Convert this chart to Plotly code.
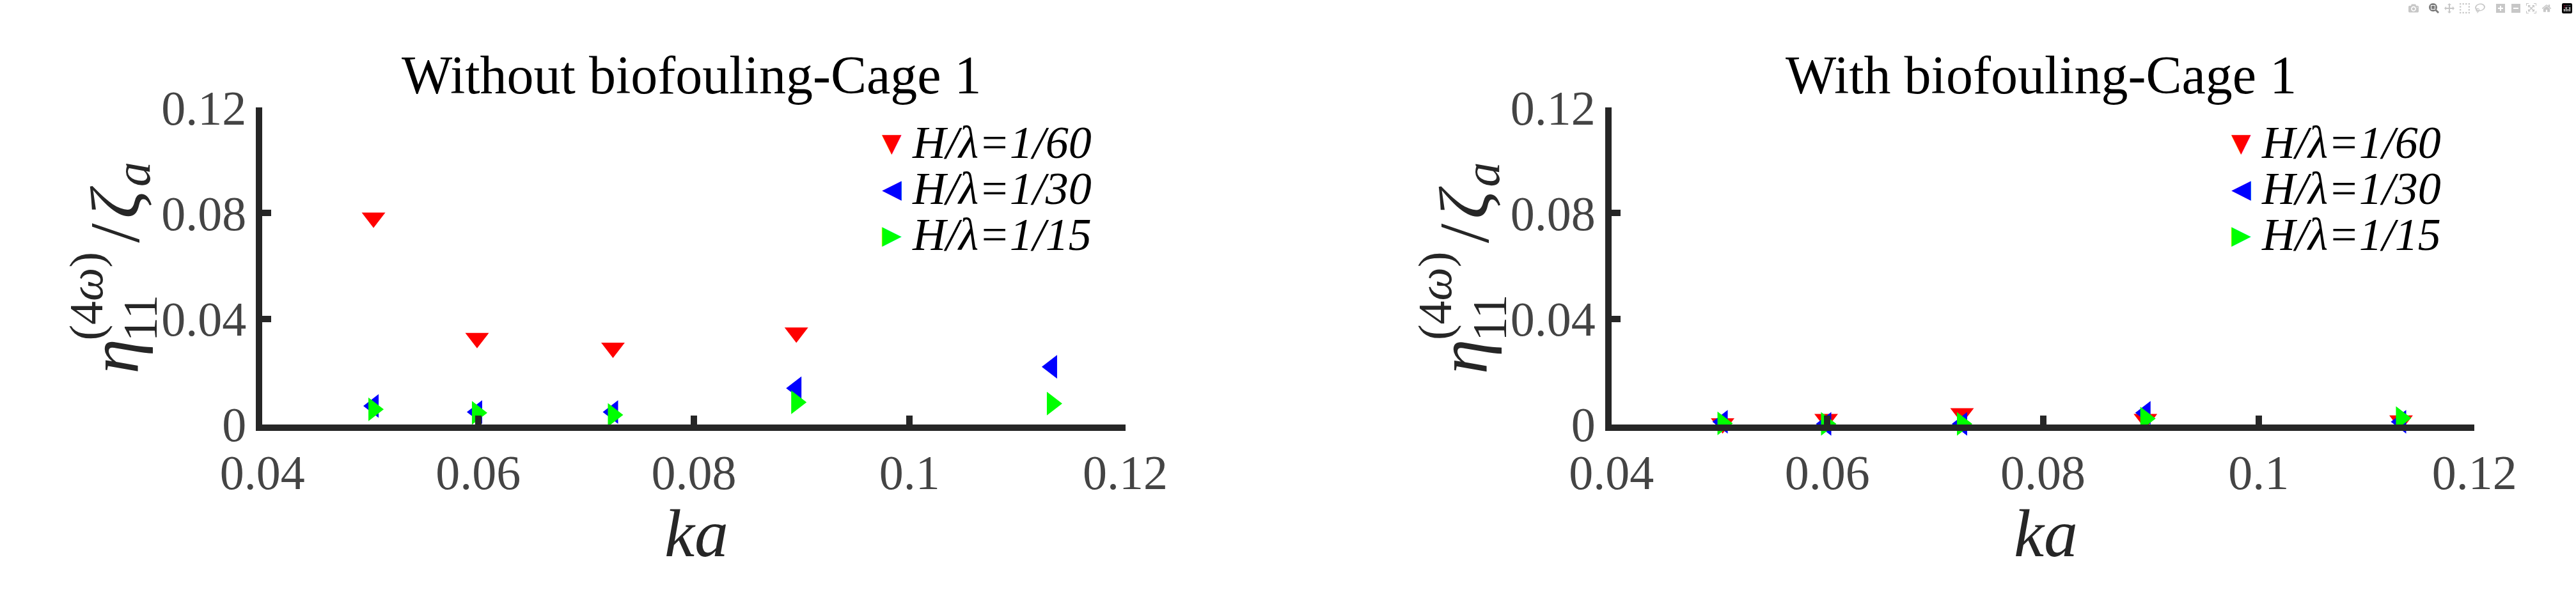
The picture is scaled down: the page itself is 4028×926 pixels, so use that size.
import plotly.graph_objects as go

# ---- data ----
ka = [0.0503, 0.0599, 0.0725, 0.0895, 0.1132]
series_names = ["H/λ=1/60", "H/λ=1/30", "H/λ=1/15"]

# without biofouling (left panel)
wo_60 = [0.0783, 0.0327, 0.0290, 0.0348, None]
wo_30 = [0.0070, 0.0047, 0.0047, 0.0137, 0.0218]
wo_15 = [0.0057, 0.0044, 0.0036, 0.0084, 0.0079]

# with biofouling (right panel)
wi_60 = [0.0004, 0.0020, 0.0042, 0.0020, 0.0015]
wi_30 = [0.0010, 0.0002, 0.0002, 0.0044, 0.0010]
wi_15 = [0.0004, 0.0002, 0.0002, 0.0022, 0.0024]

titles = ["Without biofouling-Cage 1", "With biofouling-Cage 1"]
xticks = [0.04, 0.06, 0.08, 0.1, 0.12]
xticklabels = ["0.04", "0.06", "0.08", "0.1", "0.12"]
yticks = [0, 0.04, 0.08, 0.12]
yticklabels = ["0", "0.04", "0.08", "0.12"]

colors = ["#ff0000", "#0000ff", "#00ff00"]
symbols = ["triangle-down", "triangle-left", "triangle-right"]
glyphs = ["▼", "◀", "▶"]

W, H = 4028, 926
SERIF = "Liberation Serif"
AX = "#262626"

fig = go.Figure()

panels = [(wo_60, wo_30, wo_15), (wi_60, wi_30, wi_15)]
for p, vals in enumerate(panels):
    xa = "x" if p == 0 else "x2"
    ya = "y" if p == 0 else "y2"
    for i, v in enumerate(vals):
        fig.add_trace(go.Scatter(
            x=ka, y=v, mode="markers", name=series_names[i],
            marker=dict(symbol=symbols[i], size=32, color=colors[i], line_width=0),
            xaxis=xa, yaxis=ya, showlegend=False, cliponaxis=False,
        ))

axis_style = dict(
    showline=True, linewidth=10, linecolor=AX,
    ticks="inside", ticklen=14, tickwidth=10, tickcolor=AX,
    showgrid=False, zeroline=False, mirror=False,
    tickfont=dict(family=SERIF, size=76, color="#444444"),
)

offs = [0, 2181]
top, bottom = 140, 685
fig.update_layout(
    width=W, height=H,
    margin=dict(l=0, r=0, t=0, b=0),
    paper_bgcolor="white", plot_bgcolor="white",
    showlegend=False,
    xaxis=dict(domain=[356 / W, 1751 / W], range=[0.04, 0.12], tickvals=xticks,
               ticktext=xticklabels, anchor="y", **axis_style),
    yaxis=dict(domain=[1 - bottom / H, 1 - top / H], range=[0, 0.12], tickvals=yticks,
               ticktext=yticklabels, anchor="x", **axis_style),
    xaxis2=dict(domain=[(356 + offs[1]) / W, (1751 + offs[1]) / W], range=[0.04, 0.12],
                tickvals=xticks, ticktext=xticklabels, anchor="y2", **axis_style),
    yaxis2=dict(domain=[1 - bottom / H, 1 - top / H], range=[0, 0.12], tickvals=yticks,
                ticktext=yticklabels, anchor="x2", **axis_style),
)


def note(x, y, text, size, color="black", angle=0, xanchor="center", yanchor="middle",
         family=SERIF):
    fig.add_annotation(
        x=x / W, y=1 - y / H, xref="paper", yref="paper", text=text,
        showarrow=False, textangle=angle, xanchor=xanchor, yanchor=yanchor,
        font=dict(family=family, size=size, color=color),
    )


for p in range(2):
    o = offs[p]
    # title
    note(1050 + o, 84, titles[p], 84)
    # x label
    note(1058 + o, 806, "<i>ka</i>", 106, color=AX, yanchor="top")
    # y label pieces: eta_11^(4w) / zeta_a
    note(117 + o, 568, "<i>η</i>", 110, color=AX, angle=-90)
    note(159 + o, 502, "11", 76, color=AX, angle=-90)
    note(71 + o, 464, "(4<i>ω</i>)", 74, color=AX, angle=-90)
    note(118 + o, 356, "/", 110, color=AX, angle=-90)
    note(118 + o, 303, "<i>ζ</i>", 110, color=AX, angle=-90)
    note(147 + o, 255, "<i>a</i>", 78, color=AX, angle=-90)
    # legend
    for i in range(3):
        yc = 200 + 79 * i
        note(1374 + o, yc, glyphs[i], 40, color=colors[i], family="DejaVu Sans")
        note(1404 + o, yc, "<i>" + series_names[i] + "</i>", 72, xanchor="left")

fig.write_html("out.html", post_script="document.body.style.margin='0';document.body.style.overflow='hidden';")
